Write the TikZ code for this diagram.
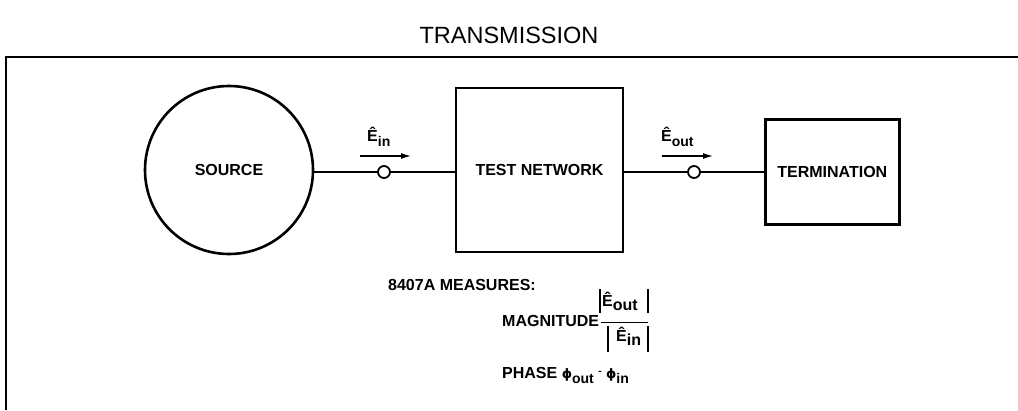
\documentclass[tikz,border=0pt]{standalone}
\usepackage{fontspec}
\setmainfont{Liberation Sans}
\newfontfamily\dvs{DejaVu Sans}
\usetikzlibrary{arrows.meta}
\newcommand{\lowsub}[1]{\raisebox{-0.32em}{\fontsize{14}{14}\selectfont #1}}
\newcommand{\bigsub}[1]{\raisebox{-0.3em}{\fontsize{16}{16}\selectfont #1}}
\newcommand{\phisym}{{\dvs\fontsize{13}{13}\selectfont ϕ}}
\begin{document}
\begin{tikzpicture}[x=1pt,y=-1pt,
  lbl/.style={font=\fontsize{16}{16}\selectfont\bfseries, inner sep=0pt},
  blockbox/.style={draw, line width=2.6pt, lbl},
  wire/.style={line width=1.8pt},
  junction/.style={circle, draw, line width=1.8pt, fill=white, minimum size=12pt, inner sep=0pt},
  flow/.style={line width=1.3pt, -{Latex[length=10pt,width=6pt]}},
  bar/.style={line width=1.2pt}
]
\useasboundingbox (0,0) rectangle (1018,410);

% title and frame
\node[font=\fontsize{23.5}{23.5}\selectfont, inner sep=0pt] (title) at (509,35) {TRANSMISSION};
\draw[line width=1.6pt] (1018,57) -- (6,57) -- (6,410);

% blocks
\node[circle, blockbox, minimum size=168pt] (src) at (229,170) {SOURCE};
\node[blockbox, minimum width=167pt, minimum height=164pt] (tn) at (539.5,170) {TEST NETWORK};
\node[blockbox, minimum width=134pt, minimum height=105pt, anchor=west] (term) at (764,172) {TERMINATION};

% junctions
\node[junction] (jin) at (384,172) {};
\node[junction] (jout) at (694,172) {};

% wires
\draw[wire] (src.east |- jin) -- (jin.west);
\draw[wire] (jin.east) -- (jin.east -| tn.west);
\draw[wire] (tn.east |- jout) -- (jout.west);
\draw[wire] (jout.east) -- (jout.east -| term.west);

% flow arrows and labels
\coordinate (ain1) at (360,156);
\coordinate (ain2) at (411,156);
\coordinate (aout1) at (662,156);
\coordinate (aout2) at (713,156);
\draw[flow] (ain1) -- (ain2);
\draw[flow] (aout1) -- (aout2);
\node[lbl, anchor=base west] (ein) at (367,141) {Ê\lowsub{in}};
\node[lbl, anchor=base west] (eout) at (661,141) {Ê\lowsub{out}};

% measures text
\node[lbl, anchor=west] (meas) at (388,285) {8407A MEASURES:};
\node[lbl, anchor=west] (mag) at (502,321) {MAGNITUDE};
\node[lbl, anchor=base west] (num) at (602,306) {Ê\bigsub{out}};
\node[lbl, anchor=base west] (den) at (616,341) {Ê\bigsub{in}};
\draw[bar] (600,289) -- (600,313);
\draw[bar] (648,289) -- (648,313);
\draw[line width=0.9pt] (601,322) -- (648,322);
\draw[bar] (608,326) -- (608,352);
\draw[bar] (648,326) -- (648,352);
\node[lbl, anchor=base west] (phase) at (502,378) {PHASE \phisym\lowsub{out} \raisebox{0.2em}{\fontsize{10}{10}\selectfont -} \phisym\lowsub{in}};
\end{tikzpicture}
\end{document}
